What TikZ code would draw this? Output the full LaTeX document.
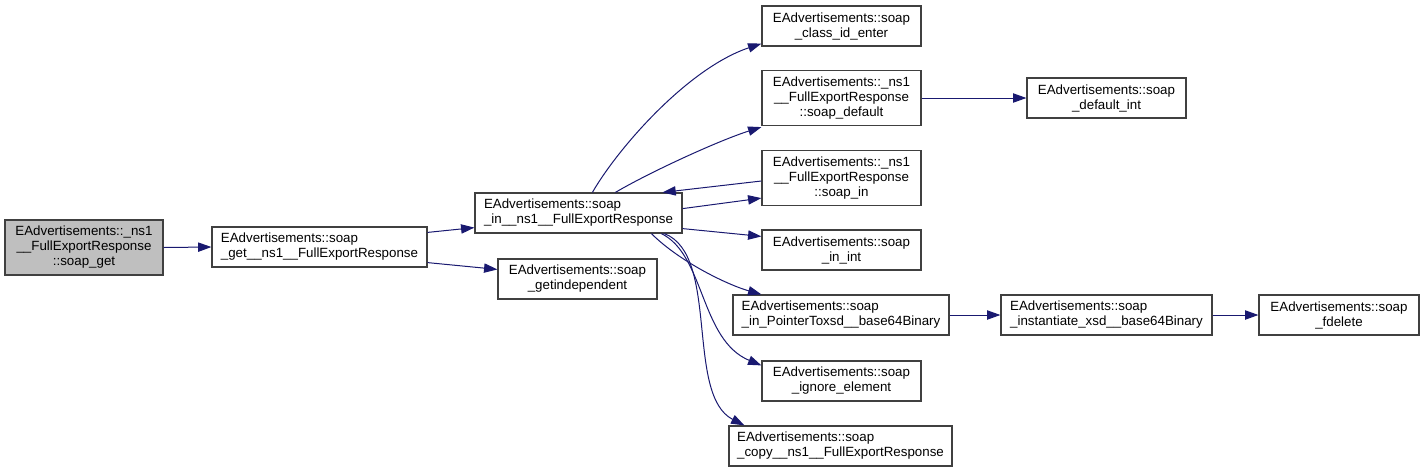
\documentclass[tikz,border=0pt]{standalone}
\usepackage{fontspec}
\setmainfont{Liberation Sans}
\usetikzlibrary{arrows.meta,calc}
\definecolor{edgeblue}{HTML}{191970}
\definecolor{boxline}{HTML}{404040}
\definecolor{rootfill}{HTML}{BFBFBF}
\tikzset{
  box/.style={draw=boxline, line width=0.9pt, fill=white, inner sep=0pt,
    font=\fontsize{10}{11.25}\selectfont, align=center},
  lbox/.style={box, align=left},
  root/.style={box, fill=rootfill},
  wh/.style 2 args={minimum width=#1*0.75pt, minimum height=#2*0.75pt},
  edge/.style={draw=edgeblue, line width=0.75pt, -{Triangle[length=10pt,width=7pt]}}
}
\begin{document}
\begin{tikzpicture}[x=0.75pt,y=-0.75pt]
\path[use as bounding box] (0,0) rectangle (1424,472);

\node[root, wh={158}{55}] (A) at (84,247.5) {EAdvertisements::\_ns1\\\_\_FullExportResponse\\::soap\_get};
\node[lbox, wh={215}{40}] (B) at (319.5,247) {EAdvertisements::soap\\\_get\_\_ns1\_\_FullExportResponse};
\node[lbox, wh={207}{40}] (C) at (578.5,213) {EAdvertisements::soap\\\_in\_\_ns1\_\_FullExportResponse};
\node[box, wh={159}{40}] (D) at (577.5,279) {EAdvertisements::soap\\\_getindependent};
\node[box, wh={159}{40}] (E) at (841.5,26) {EAdvertisements::soap\\\_class\_id\_enter};
\node[box, wh={159}{55}] (F) at (841.5,98) {EAdvertisements::\_ns1\\\_\_FullExportResponse\\::soap\_default};
\node[box, wh={159}{55}] (G) at (841.5,178) {EAdvertisements::\_ns1\\\_\_FullExportResponse\\::soap\_in};
\node[box, wh={159}{40}] (H) at (841.5,250) {EAdvertisements::soap\\\_in\_int};
\node[lbox, wh={216}{40}] (I) at (841,315) {EAdvertisements::soap\\\_in\_PointerToxsd\_\_base64Binary};
\node[box, wh={159}{40}] (J) at (841.5,381) {EAdvertisements::soap\\\_ignore\_element};
\node[lbox, wh={223}{40}] (K) at (840.5,446) {EAdvertisements::soap\\\_copy\_\_ns1\_\_FullExportResponse};
\node[box, wh={159}{40}] (L) at (1106.5,98) {EAdvertisements::soap\\\_default\_int};
\node[lbox, wh={211}{40}] (M) at (1106.5,315) {EAdvertisements::soap\\\_instantiate\_xsd\_\_base64Binary};
\node[box, wh={160}{40}] (N) at (1339,315) {EAdvertisements::soap\\\_fdelete};

\draw[edge] (A.east) -- (B.west);
\draw[edge] ($(B.north east)+(0,6)$) -- ($(C.south west)+(0,-6)$);
\draw[edge] ($(B.south east)+(0,-5)$) -- ($(D.north west)+(0,11)$);
\draw[edge] ($(C.north west)+(118,0)$) .. controls (618,148) and (688,68) .. ($(E.south west)+(0,-3)$);
\draw[edge] ($(C.north west)+(141,0)$) .. controls (650,172) and (720,140) .. ($(F.south west)+(0,1)$);
\draw[edge] ($(G.west)+(0,3)$) -- ($(C.north west)+(188,0)$);
\draw[edge] ($(C.south east)+(0,-25)$) -- ($(G.south west)+(0,-8)$);
\draw[edge] ($(C.south east)+(0,-5)$) -- ($(H.north west)+(0,7)$);
\draw[edge] ($(C.south west)+(177,0)$) .. controls (680,262) and (728,285) .. ($(I.north west)+(29,0)$);
\draw[edge] ($(C.south west)+(187,0)$) .. controls (705,255) and (700,340) .. ($(J.north west)+(0,5)$);
\draw[edge] ($(C.south west)+(190,0)$) .. controls (720,255) and (685,395) .. ($(K.north west)+(16,0)$);
\draw[edge] (F.east) -- (L.west);
\draw[edge] (I.east) -- (M.west);
\draw[edge] (M.east) -- (N.west);
\end{tikzpicture}
\end{document}
